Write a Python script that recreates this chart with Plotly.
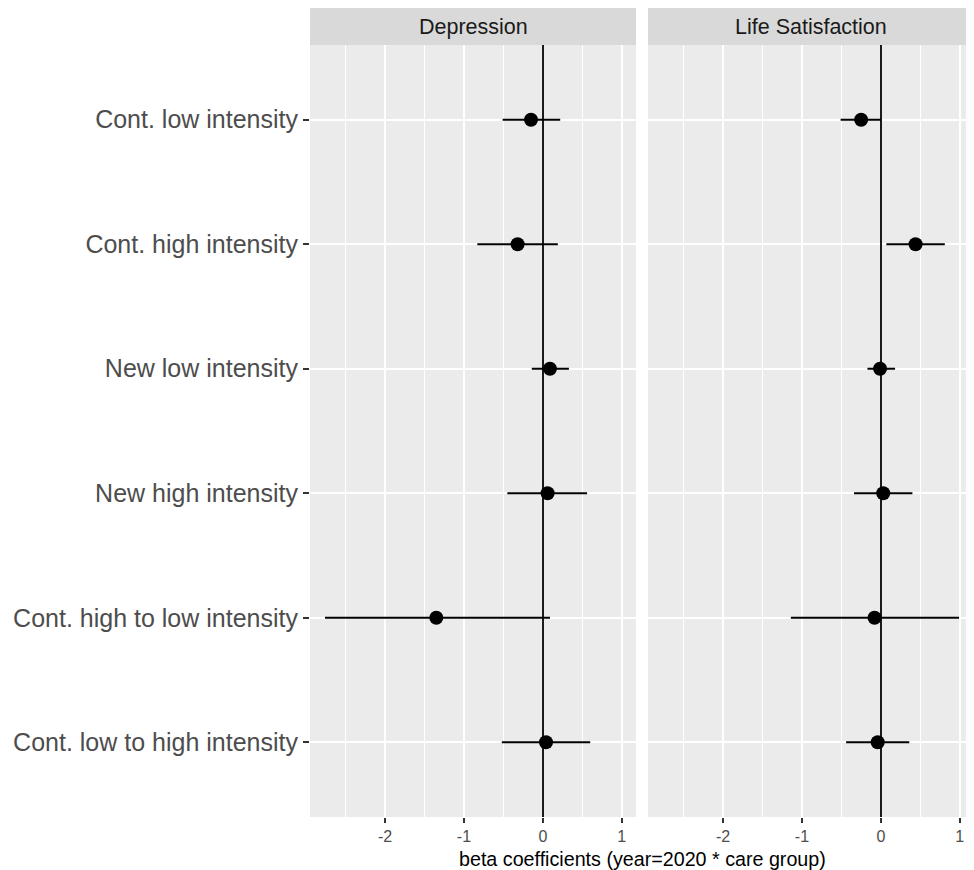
import plotly.graph_objects as go

categories = ["Cont. low intensity", "Cont. high intensity", "New low intensity",
              "New high intensity", "Cont. high to low intensity", "Cont. low to high intensity"]
panels = ["Depression", "Life Satisfaction"]

dep_est = [-0.15, -0.32, 0.09, 0.06, -1.35, 0.04]
dep_lo = [-0.51, -0.83, -0.14, -0.45, -2.76, -0.52]
dep_hi = [0.22, 0.19, 0.33, 0.56, 0.09, 0.60]

ls_est = [-0.25, 0.44, -0.01, 0.03, -0.08, -0.04]
ls_lo = [-0.51, 0.07, -0.17, -0.34, -1.14, -0.44]
ls_hi = [0.00, 0.81, 0.18, 0.40, 0.99, 0.36]

x_ticks = [-2, -1, 0, 1]
x_title = "beta coefficients (year=2020 * care group)"

FONT = "Liberation Sans, Arial, sans-serif"
# page has an 8px body margin, so the figure is sized to fit the window
W, H = 966, 862
ML, MR, MT, MB = 302, 0, 0, 53
plot_w = W - ML - MR
plot_h = H - MT - MB
panel_top = (plot_h - 37) / plot_h
gap = 12 / plot_w
dom1 = [0, (1 - gap) / 2]
dom2 = [(1 + gap) / 2, 1]

fig = go.Figure()
series = [(dep_est, dep_lo, dep_hi, "x", "y"), (ls_est, ls_lo, ls_hi, "x2", "y2")]
for est, lo, hi, xa, ya in series:
    fig.add_trace(go.Scatter(
        x=est, y=categories, mode="markers", xaxis=xa, yaxis=ya,
        marker=dict(color="black", size=14, line=dict(width=0)),
        error_x=dict(type="data", symmetric=False,
                     array=[h - e for h, e in zip(hi, est)],
                     arrayminus=[e - l for e, l in zip(est, lo)],
                     color="black", thickness=2, width=0),
        showlegend=False, hoverinfo="skip"))

xrange = [-2.95, 1.18]
xcommon = dict(range=xrange, tickvals=x_ticks, ticktext=[str(v) for v in x_ticks],
               showgrid=True, gridcolor="white", gridwidth=2,
               minor=dict(tickvals=[-2.5, -1.5, -0.5, 0.5], showgrid=True,
                          gridcolor="white", gridwidth=1, ticks=""),
               zeroline=True, zerolinecolor="#1a1a1a", zerolinewidth=1.6,
               ticks="outside", ticklen=5, tickwidth=1.5, tickcolor="#333333",
               tickfont=dict(size=16, color="#4d4d4d", family=FONT),
               showline=False, fixedrange=True)
ycommon = dict(type="category", categoryorder="array", categoryarray=categories,
               range=[5.6, -0.6], showgrid=True, gridcolor="white", gridwidth=2,
               zeroline=False, showline=False, domain=[0, panel_top], fixedrange=True)

fig.update_layout(
    width=W, height=H,
    margin=dict(l=ML, r=MR, t=MT, b=MB, pad=0),
    paper_bgcolor="white", plot_bgcolor="#ebebeb",
    font=dict(family=FONT),
    xaxis=dict(domain=dom1, anchor="y", **xcommon),
    xaxis2=dict(domain=dom2, anchor="y2", **xcommon),
    yaxis=dict(anchor="x", ticks="outside", ticklen=6, tickwidth=1.5, tickcolor="#333333",
               tickfont=dict(size=25, color="#4d4d4d", family=FONT), **ycommon),
    yaxis2=dict(anchor="x2", showticklabels=False, ticks="", **ycommon),
)

# facet strips
for name, dom in zip(panels, [dom1, dom2]):
    fig.add_shape(type="rect", xref="paper", yref="paper",
                  x0=dom[0], x1=dom[1], y0=panel_top, y1=1,
                  fillcolor="#d9d9d9", line=dict(width=0), layer="below")
    fig.add_annotation(text=name, xref="paper", yref="paper",
                       x=(dom[0] + dom[1]) / 2, y=(panel_top + 1) / 2,
                       xanchor="center", yanchor="middle", showarrow=False,
                       font=dict(size=21.5, color="#1a1a1a", family=FONT))

fig.add_annotation(text=x_title, xref="paper", yref="paper", x=0.5,
                   y=-42 / plot_h, xanchor="center", yanchor="middle",
                   showarrow=False, font=dict(size=19.7, color="black", family=FONT))

fig.write_html("out.html")
